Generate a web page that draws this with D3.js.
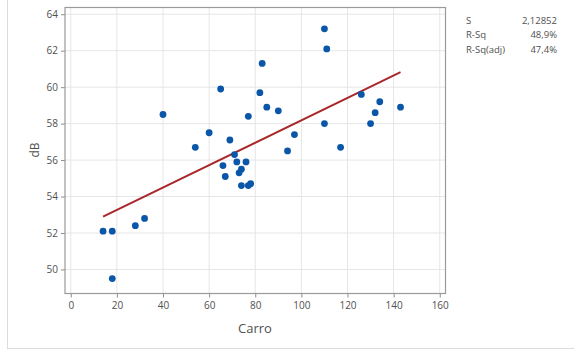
<!doctype html>
<html>
<head>
  <meta charset="utf-8">
  <script src="https://d3js.org/d3.v7.min.js"></script>
  <style>
    body { margin: 0; padding: 0; background: #fff; }
    svg text { font-family: "Open Sans", "Noto Sans", sans-serif; fill: #505050; }
  </style>
</head>
<body>
<div id="container"></div>
<script>
  // Carro (x) vs dB (y)
  var carro = [14, 18, 18, 28, 32, 40, 54, 60, 65, 66, 67, 69, 71, 72, 73, 74, 74, 76,
               77, 77, 78, 82, 83, 85, 90, 94, 97, 110, 111, 110, 117, 126, 130, 132, 134, 143];
  var dB = [52.1, 52.1, 49.5, 52.4, 52.8, 58.5, 56.7, 57.5, 59.9, 55.7, 55.1, 57.1, 56.3, 55.9, 55.3, 55.5, 54.6, 55.9,
            58.4, 54.6, 54.7, 59.7, 61.3, 58.9, 58.7, 56.5, 57.4, 63.2, 62.1, 58.0, 56.7, 59.6, 58.0, 58.6, 59.2, 58.9];

  // fitted line
  var fitIntercept = 52.04, fitSlope = 0.0614;

  var xTicks = [0, 20, 40, 60, 80, 100, 120, 140, 160];
  var yTicks = [50, 52, 54, 56, 58, 60, 62, 64];

  var statNames = ["S", "R-Sq", "R-Sq(adj)"];
  var statValues = ["2,12852", "48,9%", "47,4%"];

  var width = 574, height = 349;
  var plot = {left: 65, right: 445.5, top: 7.5, bottom: 293.5};

  var svg = d3.select("#container").append("svg")
      .attr("width", width).attr("height", height);

  // outer panel border
  svg.append("rect")
      .attr("x", 7.5).attr("y", -1)
      .attr("width", width).attr("height", 348.5 + 1)
      .attr("fill", "none").attr("stroke", "#dcdcdc");

  var x = d3.scaleLinear().domain([-2.5, 162.5]).range([plot.left, plot.right]);
  var y = d3.scaleLinear().domain([48.68, 64.37]).range([plot.bottom, plot.top]);

  // gridlines
  svg.append("g").selectAll("line").data(xTicks).enter().append("line")
      .attr("x1", d => x(d)).attr("x2", d => x(d))
      .attr("y1", plot.top).attr("y2", plot.bottom)
      .attr("stroke", "#e6e6e6").attr("stroke-width", 1);
  svg.append("g").selectAll("line").data(yTicks).enter().append("line")
      .attr("x1", plot.left).attr("x2", plot.right)
      .attr("y1", d => y(d)).attr("y2", d => y(d))
      .attr("stroke", "#e6e6e6").attr("stroke-width", 1);

  // axes
  var xAxis = svg.append("g")
      .attr("transform", "translate(0," + plot.bottom + ")")
      .call(d3.axisBottom(x).tickValues(xTicks).tickSize(4).tickPadding(4));
  var yAxis = svg.append("g")
      .attr("transform", "translate(" + plot.left + ",0)")
      .call(d3.axisLeft(y).tickValues(yTicks).tickSize(4).tickPadding(3));
  [xAxis, yAxis].forEach(function(a) {
    a.select(".domain").remove();
    a.selectAll(".tick line").attr("stroke", "#8c8c8c");
    a.selectAll(".tick text").attr("font-size", 10).style("fill", "#505050")
      .attr("font-family", "'Open Sans', sans-serif");
  });

  // frame
  svg.append("rect")
      .attr("x", plot.left).attr("y", plot.top)
      .attr("width", plot.right - plot.left).attr("height", plot.bottom - plot.top)
      .attr("fill", "none").attr("stroke", "#9a9a9a").attr("stroke-width", 1.2);

  // fitted line
  var x0 = d3.min(carro), x1 = d3.max(carro);
  svg.append("line")
      .attr("x1", x(x0)).attr("y1", y(fitIntercept + fitSlope * x0))
      .attr("x2", x(x1)).attr("y2", y(fitIntercept + fitSlope * x1))
      .attr("stroke", "#a8282a").attr("stroke-width", 2);

  // points
  svg.append("g").selectAll("circle").data(carro).enter().append("circle")
      .attr("cx", d => x(d)).attr("cy", (d, i) => y(dB[i]))
      .attr("r", 3.4).attr("fill", "#0a56a8");

  // axis titles
  svg.append("text")
      .attr("x", 255).attr("y", 333)
      .attr("text-anchor", "middle").attr("font-size", 13)
      .text("Carro");
  svg.append("text")
      .attr("transform", "translate(39,150) rotate(-90)")
      .attr("text-anchor", "middle").attr("font-size", 12)
      .text("dB");

  // stats
  var stats = svg.append("g");
  statNames.forEach(function(n, i) {
    stats.append("text").attr("x", 466).attr("y", 24 + i * 14.3)
        .attr("font-size", 9.5).text(n);
    stats.append("text").attr("x", 557).attr("y", 24 + i * 14.3)
        .attr("font-size", 9.5).attr("text-anchor", "end").text(statValues[i]);
  });
</script>
</body>
</html>
